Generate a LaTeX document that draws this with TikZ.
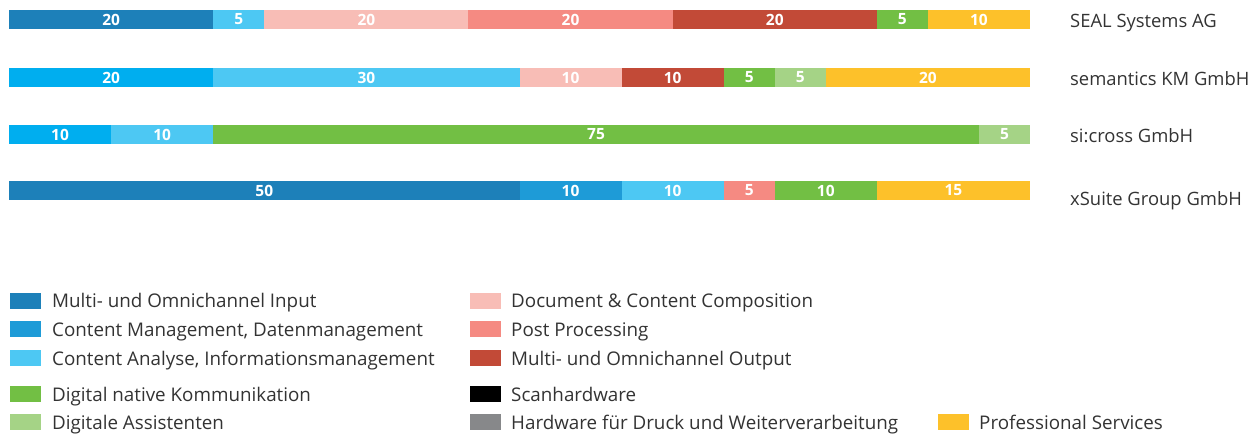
\documentclass[tikz,border=0pt]{standalone}
\usepackage{fontspec}
\setmainfont{Open Sans}
\definecolor{cMIn}{HTML}{1D80B9}
\definecolor{cCM}{HTML}{1E9BD7}
\definecolor{cBB}{HTML}{00AEEF}
\definecolor{cCA}{HTML}{4DC8F3}
\definecolor{cDC}{HTML}{F8BDB6}
\definecolor{cPP}{HTML}{F58A82}
\definecolor{cMOut}{HTML}{C24A37}
\definecolor{cDN}{HTML}{72BF44}
\definecolor{cDA}{HTML}{A5D386}
\definecolor{cSH}{HTML}{000000}
\definecolor{cHW}{HTML}{87888A}
\definecolor{cPS}{HTML}{FDC12A}
\definecolor{txt}{HTML}{333333}
\newcommand\seg[5]{% name, start, length, colour, top y
  \node[segbox, fill=#4, minimum width={#3*10.21pt}, anchor=north west] (#1) at ({9+#2*10.21},#5) {#3};}
\newcommand\legitem[4]{% name, x, y centre, colour
  \node[legsq, fill=#4, anchor=west] (#1) at (#2,#3) {};}
\begin{document}
\begin{tikzpicture}[x=1pt,y=-1pt,
  segbox/.style={inner sep=0pt, outer sep=0pt, minimum height=19pt, text=white,
    font=\fontsize{15.5}{15.5}\selectfont\bfseries},
  company/.style={anchor=base west, inner sep=0pt, text=txt, font=\fontsize{18.4}{18.4}\selectfont},
  legsq/.style={inner sep=0pt, outer sep=0pt, minimum width=31pt, minimum height=16pt},
  legtxt/.style={anchor=base west, inner sep=0pt, text=txt, font=\fontsize{18.8}{18.8}\selectfont}]
\useasboundingbox (0,0) rectangle (1253,434);
% row 1
\seg{a1}{0}{20}{cMIn}{10}
\seg{a2}{20}{5}{cCA}{10}
\seg{a3}{25}{20}{cDC}{10}
\seg{a4}{45}{20}{cPP}{10}
\seg{a5}{65}{20}{cMOut}{10}
\seg{a6}{85}{5}{cDN}{10}
\seg{a7}{90}{10}{cPS}{10}
% row 2
\seg{b1}{0}{20}{cBB}{68}
\seg{b2}{20}{30}{cCA}{68}
\seg{b3}{50}{10}{cDC}{68}
\seg{b4}{60}{10}{cMOut}{68}
\seg{b5}{70}{5}{cDN}{68}
\seg{b6}{75}{5}{cDA}{68}
\seg{b7}{80}{20}{cPS}{68}
% row 3
\seg{c1}{0}{10}{cBB}{125}
\seg{c2}{10}{10}{cCA}{125}
\seg{c3}{20}{75}{cDN}{125}
\seg{c4}{95}{5}{cDA}{125}
% row 4
\seg{d1}{0}{50}{cMIn}{181}
\seg{d2}{50}{10}{cCM}{181}
\seg{d3}{60}{10}{cCA}{181}
\seg{d4}{70}{5}{cPP}{181}
\seg{d5}{75}{10}{cDN}{181}
\seg{d6}{85}{15}{cPS}{181}
% companies
\node[company] (n1) at (1070,27) {SEAL Systems AG};
\node[company] (n2) at (1070,85) {semantics KM GmbH};
\node[company] (n3) at (1070,142) {si:cross GmbH};
\node[company] (n4) at (1070,205) {xSuite Group GmbH};
% legend
\legitem{l1}{10}{300.5}{cMIn}
\node[legtxt] (t1) at (52,307.5) {Multi- und Omnichannel Input};
\legitem{l2}{10}{329}{cCM}
\node[legtxt] (t2) at (52,336.5) {Content Management, Datenmanagement};
\legitem{l3}{10}{358}{cCA}
\node[legtxt] (t3) at (52,365.5) {Content Analyse, Informationsmanagement};
\legitem{l4}{10}{394}{cDN}
\node[legtxt] (t4) at (52,401.5) {Digital native Kommunikation};
\legitem{l5}{10}{422}{cDA}
\node[legtxt] (t5) at (52,429.5) {Digitale Assistenten};
\legitem{l6}{470}{300.5}{cDC}
\node[legtxt] (t6) at (511,307.5) {Document \& Content Composition};
\legitem{l7}{470}{329}{cPP}
\node[legtxt] (t7) at (511,336.5) {Post Processing};
\legitem{l8}{470}{358}{cMOut}
\node[legtxt] (t8) at (511,365.5) {Multi- und Omnichannel Output};
\legitem{l9}{470}{394}{cSH}
\node[legtxt] (t9) at (511,401.5) {Scanhardware};
\legitem{l10}{470}{422}{cHW}
\node[legtxt] (t10) at (511,429.5) {Hardware für Druck und Weiterverarbeitung};
\legitem{l11}{938}{422}{cPS}
\node[legtxt] (t11) at (979,429.5) {Professional Services};
\end{tikzpicture}
\end{document}
